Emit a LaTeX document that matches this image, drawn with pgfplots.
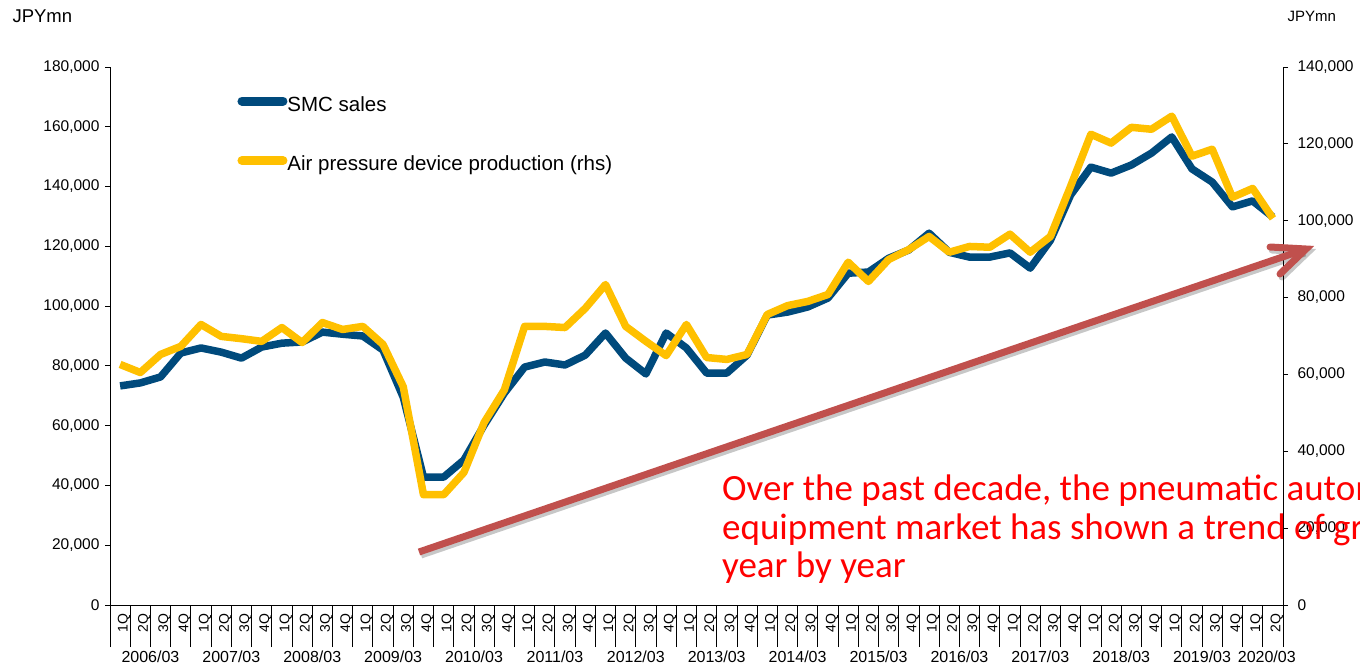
\documentclass[border=0pt]{standalone}
\usepackage{pgfplots}
\pgfplotsset{compat=1.18}
\usepackage{pgfplotstable}
\usepackage{fontspec}
\setmainfont{Liberation Sans}
\newfontfamily\calibri{Carlito}
\definecolor{smcblue}{HTML}{004A7C}
\definecolor{airyellow}{HTML}{FFC000}
\definecolor{arrowred}{HTML}{C0504D}

\pgfplotstableread{
i smc air
0 73300 62600
1 74300 60500
2 76300 65200
3 84300 67300
4 86000 73000
5 84600 69900
6 82600 69300
7 86300 68600
8 87600 72200
9 88000 68300
10 91300 73500
11 90600 71700
12 90000 72500
13 85300 67800
14 69500 56800
15 42800 28700
16 42800 28700
17 48500 34500
18 60200 47500
19 70900 56000
20 79600 72500
21 81300 72500
22 80300 72200
23 83600 77200
24 91000 83400
25 82600 72500
26 77300 68600
27 91000 64900
28 86000 73000
29 77600 64400
30 77600 63900
31 83600 65200
32 97000 75600
33 98000 77900
34 99700 79000
35 102700 80800
36 111000 89200
37 111400 84200
38 116000 89900
39 118800 92500
40 124400 95900
41 118000 91800
42 116400 93300
43 116400 93100
44 117800 96500
45 112700 91800
46 122000 95900
47 137200 109000
48 146500 122500
49 144500 120200
50 147200 124300
51 151200 123800
52 156600 127200
53 145900 116800
54 141500 118600
55 133200 106100
56 135200 108400
57 129800 100600
}\datatable

\pgfplotsset{
  common/.style={
    width=1173pt, height=538pt, scale only axis,
    xmin=-0.5, xmax=57.5, ymin=0,
    clip=false,
    axis line style={black, line width=0.9pt},
    tick style={black, line width=0.9pt},
    tick align=outside,
    major tick length=5pt,
    scaled y ticks=false,
    yticklabel={\pgfmathprintnumber[fixed, precision=0, 1000 sep={,}, assume math mode=true]{\tick}},
    yticklabel style={font=\fontsize{15.5}{15.5}\selectfont},
  }
}

\begin{document}
\begin{tikzpicture}[x=1pt,y=1pt]
\useasboundingbox (0,0) rectangle (1360,667);
\clip (0,0) rectangle (1360,667);
\begin{axis}[common,
  at={(110pt,62pt)}, anchor=south west,
  ymax=180000, ytick={0,20000,...,180000},
  axis y line*=left, axis x line*=bottom,
  yticklabel style={xshift=-2pt},
  xtick={0,...,57},
  xticklabels={1Q,2Q,3Q,4Q,1Q,2Q,3Q,4Q,1Q,2Q,3Q,4Q,1Q,2Q,3Q,4Q,1Q,2Q,3Q,4Q,1Q,2Q,3Q,4Q,1Q,2Q,3Q,4Q,1Q,2Q,3Q,4Q,1Q,2Q,3Q,4Q,1Q,2Q,3Q,4Q,1Q,2Q,3Q,4Q,1Q,2Q,3Q,4Q,1Q,2Q,3Q,4Q,1Q,2Q,3Q,4Q,1Q,2Q},
  major x tick style={draw=none},
  xticklabel style={rotate=90, anchor=east, font=\fontsize{14}{14}\selectfont, yshift=-4pt},
  minor xtick={-0.5,0.5,...,57.5},
  minor tick length=42pt,
  extra x ticks={-0.5,3.5,7.5,11.5,15.5,19.5,23.5,27.5,31.5,35.5,39.5,43.5,47.5,51.5,55.5,57.5},
  extra x tick labels={},
  extra x tick style={major tick length=62pt, tick style={draw=black}},
]
\addplot[smcblue, line width=7.5pt, line join=round] table[x=i,y=smc]{\datatable};
\node[font=\fontsize{16}{16}\selectfont, yshift=-52pt] at (axis cs:1.5,0) {2006/03};
\node[font=\fontsize{16}{16}\selectfont, yshift=-52pt] at (axis cs:5.5,0) {2007/03};
\node[font=\fontsize{16}{16}\selectfont, yshift=-52pt] at (axis cs:9.5,0) {2008/03};
\node[font=\fontsize{16}{16}\selectfont, yshift=-52pt] at (axis cs:13.5,0) {2009/03};
\node[font=\fontsize{16}{16}\selectfont, yshift=-52pt] at (axis cs:17.5,0) {2010/03};
\node[font=\fontsize{16}{16}\selectfont, yshift=-52pt] at (axis cs:21.5,0) {2011/03};
\node[font=\fontsize{16}{16}\selectfont, yshift=-52pt] at (axis cs:25.5,0) {2012/03};
\node[font=\fontsize{16}{16}\selectfont, yshift=-52pt] at (axis cs:29.5,0) {2013/03};
\node[font=\fontsize{16}{16}\selectfont, yshift=-52pt] at (axis cs:33.5,0) {2014/03};
\node[font=\fontsize{16}{16}\selectfont, yshift=-52pt] at (axis cs:37.5,0) {2015/03};
\node[font=\fontsize{16}{16}\selectfont, yshift=-52pt] at (axis cs:41.5,0) {2016/03};
\node[font=\fontsize{16}{16}\selectfont, yshift=-52pt] at (axis cs:45.5,0) {2017/03};
\node[font=\fontsize{16}{16}\selectfont, yshift=-52pt] at (axis cs:49.5,0) {2018/03};
\node[font=\fontsize{16}{16}\selectfont, yshift=-52pt] at (axis cs:53.5,0) {2019/03};
\node[font=\fontsize{16}{16}\selectfont, yshift=-52pt] at (axis cs:56.7,0) {2020/03};
\end{axis}
\begin{axis}[common,
  at={(110pt,62pt)}, anchor=south west,
  ymax=140000, ytick={0,20000,...,140000},
  axis y line*=right, axis x line=none,
  yticklabel style={xshift=6pt},
  legend style={draw=none, fill=none, at={(0.1085,0.8725)}, anchor=west,
    font=\fontsize{20.5}{20.5}\selectfont, row sep=41pt, inner sep=0pt,
    nodes={inner sep=0pt, text height=14pt, text depth=4pt}},
  legend cell align=left,
  legend image code/.code={\draw[#1, line width=9pt, line cap=round] (3pt,5pt) -- (44pt,5pt);},
]
\addlegendimage{smcblue, line width=7pt}
\addlegendentry{SMC sales}
\addplot[airyellow, line width=7.5pt, line join=round] table[x=i,y=air]{\datatable};
\addlegendentry{Air pressure device production (rhs)}
\end{axis}
\node[anchor=west, font=\fontsize{18.5}{18.5}\selectfont] at (9,651) {JPYmn};
\node[anchor=west, font=\fontsize{15}{15}\selectfont] at (1284,651) {JPYmn};
% arrow with soft shadow
\begin{scope}[xshift=2pt, yshift=-3pt, opacity=0.22]
\draw[black, line width=7pt] (419,115) -- (1303,417);
\draw[black, line width=7pt, line cap=round, line join=miter] (1270,420) -- (1306,418) -- (1280,393);
\end{scope}
\draw[arrowred, line width=7pt] (419,115) -- (1303,417);
\draw[arrowred, line width=7pt, line cap=round, line join=miter] (1270,420) -- (1306,418) -- (1280,393);
\begin{scope}[every node/.style={anchor=base west, text=red, inner sep=0pt, font=\calibri\fontsize{37}{38}\selectfont}]
\node at (722,166) {Over the past decade, the pneumatic automation};
\node at (722,128) {equipment market has shown a trend of growth};
\node at (722,90) {year by year};
\end{scope}
\end{tikzpicture}
\end{document}
